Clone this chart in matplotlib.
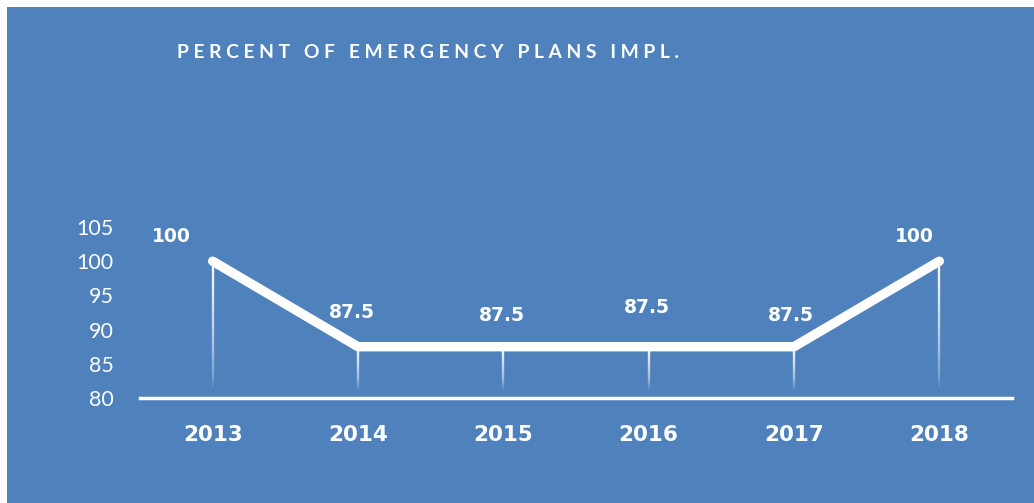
import numpy as np
import matplotlib.pyplot as plt
from matplotlib.patches import Rectangle
from matplotlib.collections import LineCollection

# Data
years = ['2013', '2014', '2015', '2016', '2017', '2018']
pct = [100, 87.5, 87.5, 87.5, 87.5, 100]
# where each value label sits relative to its point (pixels)
label_offsets = [(-41, 25), (-6, 34), (-1, 31), (-2, 39), (-3, 31), (-25, 25)]

BLUE = '#4f81bd'
W, H = 1034, 503

fig = plt.figure(figsize=(W / 100, H / 100), dpi=100, facecolor='white')
fig.patches.append(Rectangle((7 / W, 0), 1 - 7 / W, 1 - 7 / H,
                             transform=fig.transFigure, facecolor=BLUE,
                             edgecolor='none', zorder=-5))

# axes box: x from 140 to 1012 px, y from 80 (398px) to 105 (227px)
ax = fig.add_axes([140 / W, (H - 398) / H, 872 / W, 171 / H])
ax.set_facecolor('none')
x = np.arange(len(years))
ax.set_xlim(-0.5, 5.5)
ax.set_ylim(80, 105)

# drop lines fading toward the axis
for xi, yi in zip(x, pct):
    ys = np.linspace(yi, 81.2, 40)
    segs = [[(xi, ys[i]), (xi, ys[i + 1])] for i in range(len(ys) - 1)]
    alphas = np.linspace(0.95, 0.0, len(segs)) ** 0.6
    cols = [(1, 1, 1, a) for a in alphas]
    ax.add_collection(LineCollection(segs, colors=cols, linewidths=1.7, zorder=2))

ax.plot(x, pct, color='white', lw=6.8, solid_capstyle='round',
        solid_joinstyle='round', zorder=3)

for xi, yi, (dx, dy) in zip(x, pct, label_offsets):
    ax.annotate(f'{yi:g}', (xi, yi), xytext=(dx, dy), textcoords='offset pixels',
                ha='center', va='center', color='white', fontsize=13.5,
                fontweight='bold', family='DejaVu Sans')

ax.axhline(80, color='white', lw=2.5, zorder=4, clip_on=False)

for s in ax.spines.values():
    s.set_visible(False)
ax.set_xticks(x)
ax.set_xticklabels(years, family='DejaVu Sans', fontweight='bold', fontsize=15.5,
                   color='white')
ax.set_yticks(range(80, 106, 5))
ax.set_yticklabels([str(v) for v in range(80, 106, 5)], family='Lato',
                   fontweight='normal', fontsize=15.5, color='white')
ax.tick_params(axis='both', length=0)
ax.tick_params(axis='x', pad=19.5)
ax.tick_params(axis='y', pad=19)

fig.text(177 / W, 1 - 52 / H, 'P E R C E N T   O F   E M E R G E N C Y   P L A N S   I M P L .',
         color='white', fontsize=13.9, fontweight='bold', family='Lato',
         ha='left', va='center')

fig.savefig('out.png', dpi=100, facecolor='white')
